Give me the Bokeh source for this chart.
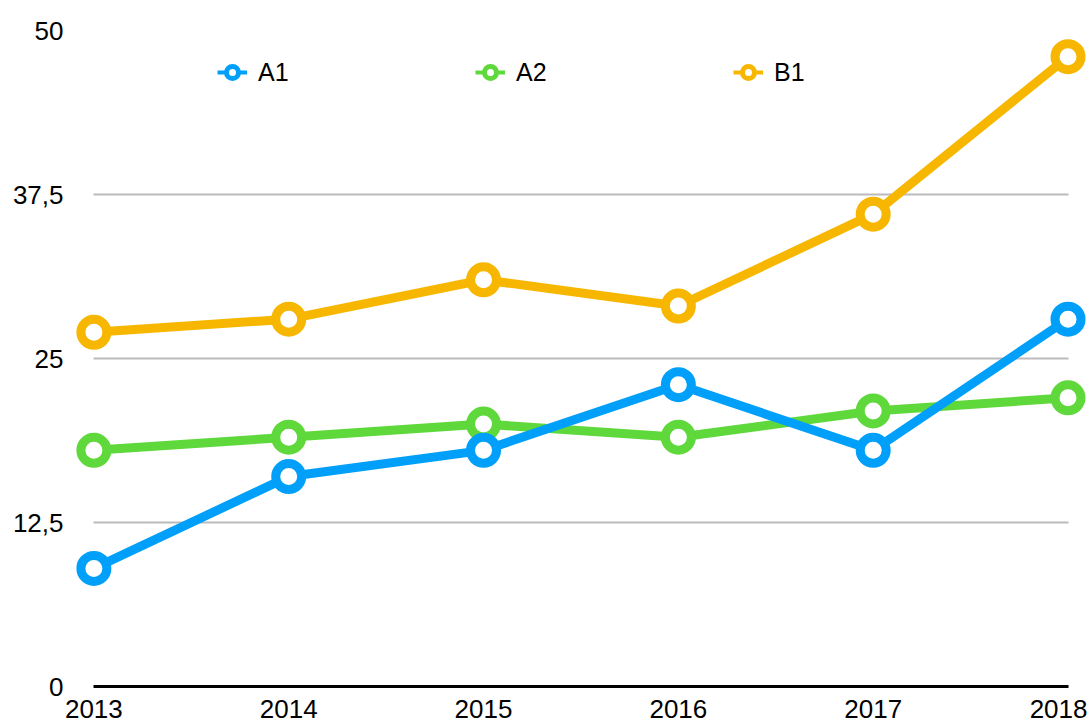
from bokeh.plotting import figure
from bokeh.models import Range1d, FixedTicker, Legend, LegendItem, ColumnDataSource
from bokeh.embed import file_html
from bokeh.resources import INLINE

years = [2013, 2014, 2015, 2016, 2017, 2018]
a1 = [9, 16, 18, 23, 18, 28]
a2 = [18, 19, 20, 19, 21, 22]
b1 = [27, 28, 31, 29, 36, 48]
series_names = ["A1", "A2", "B1"]
colors = {"A1": "#00A0FA", "A2": "#5ED83A", "B1": "#F7B700"}
y_ticks = [0, 12.5, 25, 37.5, 50]
y_tick_labels = ["0", "12,5", "25", "37,5", "50"]

FONT = "Liberation Sans"

p = figure(width=1087, height=728, output_backend="svg", toolbar_location=None,
           x_range=Range1d(2013 - 0.12, 2018 + 0.1), y_range=Range1d(0, 50),
           min_border_left=70, min_border_right=0, min_border_top=30, min_border_bottom=42)
p.outline_line_color = None
p.background_fill_color = "white"
p.border_fill_color = "white"

# axes
p.xaxis.ticker = FixedTicker(ticks=years)
p.xaxis.bounds = (2013, 2018)
p.xaxis.axis_line_color = "black"
p.xaxis.axis_line_width = 3
p.xaxis.major_tick_line_color = None
p.xaxis.minor_tick_line_color = None
p.xaxis.major_tick_in = 0
p.xaxis.major_tick_out = 0
p.xaxis.major_label_standoff = 13
p.xaxis.major_label_text_font = FONT
p.xaxis.major_label_text_font_size = "26px"
p.xaxis.major_label_text_color = "black"

p.yaxis.ticker = FixedTicker(ticks=y_ticks)
p.yaxis.major_label_overrides = {t: l for t, l in zip(y_ticks, y_tick_labels)}
p.yaxis.axis_line_color = None
p.yaxis.major_tick_line_color = None
p.yaxis.minor_tick_line_color = None
p.yaxis.major_tick_in = 0
p.yaxis.major_tick_out = 0
p.yaxis.major_label_standoff = 7
p.yaxis.major_label_text_font = FONT
p.yaxis.major_label_text_font_size = "26px"
p.yaxis.major_label_text_color = "black"

p.xgrid.grid_line_color = None
p.ygrid.grid_line_color = "#BBBBBB"
p.ygrid.grid_line_width = 2
p.ygrid.cross_bounds = (2013, 2018)

data = {"A1": a1, "A2": a2, "B1": b1}
legend_items = []
order = ["B1", "A2", "A1"]
dummies = {}
for name in order:
    src = ColumnDataSource(dict(x=years, y=data[name]))
    c = colors[name]
    # small renderers (hidden under the main ones) used for legend glyphs
    dl = p.line("x", "y", source=src, line_color=c, line_width=4)
    ds = p.scatter("x", "y", source=src, marker="circle", size=12,
                   fill_color="white", line_color=c, line_width=5)
    dummies[name] = [dl, ds]
    p.line("x", "y", source=src, line_color=c, line_width=9)
    p.scatter("x", "y", source=src, marker="circle", size=26,
              fill_color="white", line_color=c, line_width=9)

for name in series_names:
    legend_items.append(LegendItem(label=name, renderers=dummies[name]))

legend = Legend(items=legend_items, orientation="horizontal",
                location=(147, 594), padding=0, margin=0, spacing=0,
                glyph_width=30, glyph_height=40, label_standoff=11,
                label_width=217, label_text_font=FONT,
                label_text_font_size="25px", label_text_color="black",
                border_line_color=None, background_fill_alpha=0)
p.add_layout(legend, "center")

open("out.html", "w").write(file_html(p, INLINE))
